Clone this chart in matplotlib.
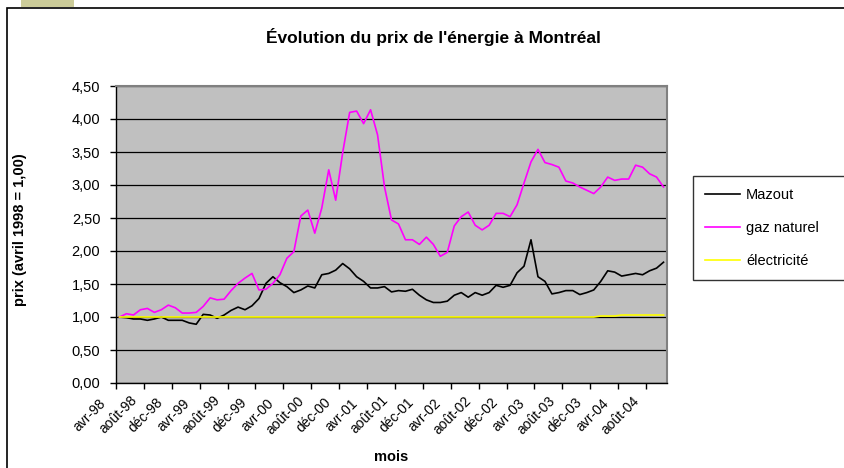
import numpy as np
import matplotlib
matplotlib.use("Agg")
import matplotlib.pyplot as plt
from matplotlib.patches import Rectangle
from matplotlib.transforms import ScaledTranslation

plt.rcParams['font.family'] = ['Liberation Sans', 'DejaVu Sans']

# indices mensuels, avr-98 a oct-04
MAZOUT = [1.00, 0.99, 0.97, 0.97, 0.95, 0.97, 1.00, 0.95, 0.95, 0.95,
          0.91, 0.89, 1.04, 1.03, 0.98, 1.03, 1.10, 1.15, 1.11, 1.17,
          1.28, 1.51, 1.61, 1.52, 1.46, 1.37, 1.41, 1.47, 1.44, 1.64,
          1.66, 1.71, 1.81, 1.73, 1.61, 1.54, 1.44, 1.44, 1.46, 1.38,
          1.40, 1.39, 1.42, 1.33, 1.26, 1.22, 1.22, 1.24, 1.33, 1.37,
          1.30, 1.37, 1.33, 1.37, 1.48, 1.45, 1.48, 1.67, 1.77, 2.17,
          1.61, 1.54, 1.35, 1.37, 1.40, 1.40, 1.34, 1.37, 1.41, 1.54,
          1.70, 1.68, 1.62, 1.64, 1.66, 1.64, 1.70, 1.74, 1.83]

GAZ = [1.00, 1.05, 1.03, 1.11, 1.13, 1.07, 1.11, 1.18, 1.14, 1.06,
       1.06, 1.07, 1.16, 1.29, 1.26, 1.27, 1.40, 1.51, 1.59, 1.66,
       1.41, 1.42, 1.51, 1.64, 1.89, 1.99, 2.53, 2.62, 2.27, 2.65,
       3.23, 2.77, 3.49, 4.10, 4.12, 3.93, 4.14, 3.76, 2.97, 2.47,
       2.41, 2.17, 2.17, 2.10, 2.21, 2.10, 1.92, 1.98, 2.38, 2.52,
       2.59, 2.39, 2.32, 2.39, 2.57, 2.57, 2.52, 2.70, 3.03, 3.35,
       3.54, 3.34, 3.31, 3.27, 3.06, 3.03, 2.97, 2.92, 2.87, 2.97,
       3.12, 3.07, 3.09, 3.09, 3.30, 3.27, 3.17, 3.12, 2.97]

ELEC = [1.00] * 69 + [1.015, 1.015, 1.015] + [1.03] * 7

MOIS = ['avr-98', 'août-98', 'déc-98', 'avr-99', 'août-99', 'déc-99',
        'avr-00', 'août-00', 'déc-00', 'avr-01', 'août-01', 'déc-01',
        'avr-02', 'août-02', 'déc-02', 'avr-03', 'août-03', 'déc-03',
        'avr-04', 'août-04']

Y_TICKS = [0.0, 0.5, 1.0, 1.5, 2.0, 2.5, 3.0, 3.5, 4.0, 4.5]

W, H = 845, 468
fig = plt.figure(figsize=(W / 100, H / 100), dpi=100)

# cadre du graphique et petit rectangle en haut
fig.patches.append(Rectangle((7.5 / W, -0.1), 2.0, 1.1 - 8 / H,
                             transform=fig.transFigure, fill=False,
                             edgecolor='black', linewidth=1.2))
fig.patches.append(Rectangle((21 / W, 1 - 7 / H), 53 / W, 7 / H,
                             transform=fig.transFigure, facecolor='#cccc99',
                             edgecolor='none'))

ax = fig.add_axes([116 / W, 85 / H, 551 / W, 297 / H])
ax.set_facecolor('#c0c0c0')

x = np.arange(len(MAZOUT))
ax.plot(x, MAZOUT, color='black', lw=1.2, label='Mazout', zorder=3)
ax.plot(x, GAZ, color='#ff00ff', lw=1.2, label='gaz naturel', zorder=3)
ax.plot(x, ELEC, color='#ffff00', lw=1.2, label='électricité', zorder=4)

ax.set_xlim(-0.5, len(MAZOUT) - 0.5)
ax.set_ylim(0, 4.5)

ax.set_yticks(Y_TICKS, [f'{v:.2f}'.replace('.', ',') for v in Y_TICKS])
ax.yaxis.grid(True, color='black', lw=0.9)
ax.set_axisbelow(True)

ax.tick_params(axis='y', direction='out', length=4.3, width=1, pad=7,
               labelsize=10.5)
ax.tick_params(axis='x', direction='out', length=4.3, width=1, pad=0,
               labelsize=10)

ax.set_xticks(np.arange(-0.5, len(MAZOUT) - 0.5, 4), MOIS)
for lab in ax.get_xticklabels():
    lab.set_rotation(45)
    lab.set_rotation_mode('anchor')
    lab.set_ha('center')
    lab.set_va('center')
    lab.set_transform(lab.get_transform() +
                      ScaledTranslation(-0.26, -0.26, fig.dpi_scale_trans))

for side in ['top', 'right']:
    ax.spines[side].set_color('#808080')
    ax.spines[side].set_linewidth(1.5)
for side in ['left', 'bottom']:
    ax.spines[side].set_color('black')
    ax.spines[side].set_linewidth(1)

fig.text(433 / W, 1 - 37 / H, "Évolution du prix de l'énergie à Montréal",
         ha='center', va='center', fontsize=12.5, fontweight='bold')
fig.text(391 / W, 1 - 457 / H, 'mois', ha='center', va='center',
         fontsize=10.5, fontweight='bold')
fig.text(20 / W, 1 - 230 / H, 'prix (avril 1998 = 1,00)', ha='center',
         va='center', rotation=90, fontsize=10.5, fontweight='bold')

leg = fig.legend(loc='upper left',
                 bbox_to_anchor=(692.7 / W, 1 - 279.3 / H, 200 / W, 103.6 / H),
                 mode='expand', fontsize=10.5, frameon=True, fancybox=False,
                 borderpad=0.85, labelspacing=1.3, handlelength=2.4,
                 handletextpad=0.4, borderaxespad=0)
leg.get_frame().set_edgecolor('black')
leg.get_frame().set_linewidth(1)

fig.savefig('out.png', dpi=100)
